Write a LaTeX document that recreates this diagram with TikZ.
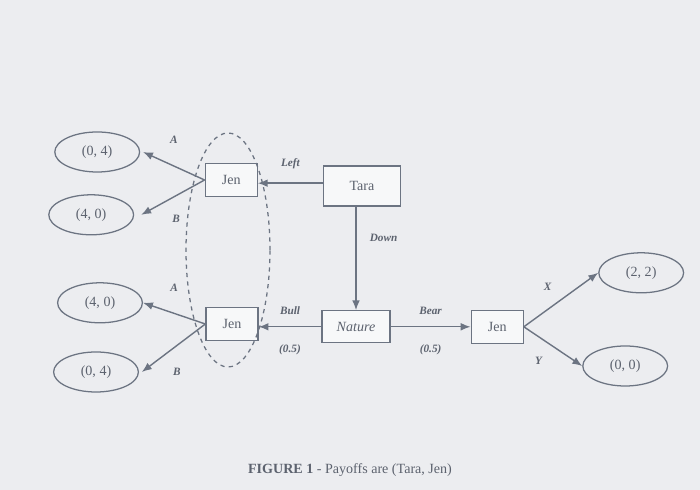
\documentclass[tikz,border=0pt]{standalone}
\usepackage{fontspec}
\setmainfont{Liberation Serif}
\usetikzlibrary{arrows.meta,shapes.geometric}
\definecolor{paper}{RGB}{236,237,240}
\definecolor{ink}{RGB}{108,116,130}
\definecolor{txt}{RGB}{92,98,110}
\tikzset{
  move/.style={draw=ink,line width=1pt,-{Latex[length=7pt,width=5.5pt]}},
  choice/.style={draw=ink,line width=0.9pt,fill=white!60!paper,text=txt,minimum height=0.82cm,minimum width=1.3cm},
  payoff/.style={ellipse,draw=ink,line width=0.9pt,text=txt,minimum height=1cm,minimum width=2.12cm,inner sep=0pt},
  lbl/.style={text=txt,font=\footnotesize\bfseries\itshape}
}
\begin{document}
\begin{tikzpicture}
\fill[paper] (0,0) rectangle (17.5,12.25);
\useasboundingbox (0,0) rectangle (17.5,12.25);
% decision nodes
\draw node[choice,minimum width=1.92cm,minimum height=1cm] (tara) at (9.05,7.6) {Tara};
\draw node[choice] (jenL) at (5.78,7.75) {Jen};
\draw node[choice,minimum width=1.7cm,minimum height=0.8cm] (nature) at (8.9,4.08) {\itshape Nature};
\draw node[choice] (jenB) at (5.8,4.15) {Jen};
\draw node[choice] (jenR) at (12.43,4.08) {Jen};
% information set
\draw node[ellipse,draw=ink,line width=0.9pt,dashed,minimum width=2.1cm,minimum height=5.85cm] (infoset) at (5.7,6.0) {};
% payoffs
\draw node[payoff] (pay1) at (2.43,8.45) {(0, 4)};
\draw node[payoff] (pay2) at (2.28,6.88) {(4, 0)};
\draw node[payoff] (pay3) at (2.5,4.68) {(4, 0)};
\draw node[payoff] (pay4) at (2.4,2.95) {(0, 4)};
\draw node[payoff] (pay5) at (16.03,5.43) {(2, 2)};
\draw node[payoff] (pay6) at (15.63,3.1) {(0, 0)};
% moves
\draw[move] ([yshift=2pt]tara.west) -- ([yshift=2pt]jenL.east |- tara.west) node[midway,above=6pt,lbl] {Left};
\draw[move] (nature.north |- tara.south) -- (nature.north) node[pos=0.3,right=6pt,lbl] {Down};
\draw[move] (jenL.west) -- ([xshift=2pt]pay1.east) node[midway,above=12pt,lbl] {A};
\draw[move] (jenL.west) -- ([xshift=5pt]pay2.east) node[pos=0.45,below=10pt,lbl] {B};
\draw[move] (nature.west) -- (jenB.east |- nature.west) node[midway,above=5pt,lbl] {Bull} node[midway,below=9pt,lbl] {(0.5)};
\draw[move] (nature) -- (jenR) node[midway,above=5pt,lbl] {Bear} node[midway,below=9pt,lbl] {(0.5)};
\draw[move] (jenB.west) -- (pay3.east) node[midway,above=12pt,lbl] {A};
\draw[move] (jenB.west) -- ([xshift=2pt]pay4.east) node[pos=0.45,below=12pt,lbl] {B};
\draw[move] (jenR.east) -- (pay5.west) node[midway,above left=3pt,lbl] {X};
\draw[move] (jenR.east) -- (pay6.west) node[midway,below left=4pt,lbl] {Y};
% caption
\draw node[text=txt] (caption) at (8.75,0.5) {\textbf{FIGURE 1} - Payoffs are (Tara, Jen)};
\end{tikzpicture}
\end{document}
